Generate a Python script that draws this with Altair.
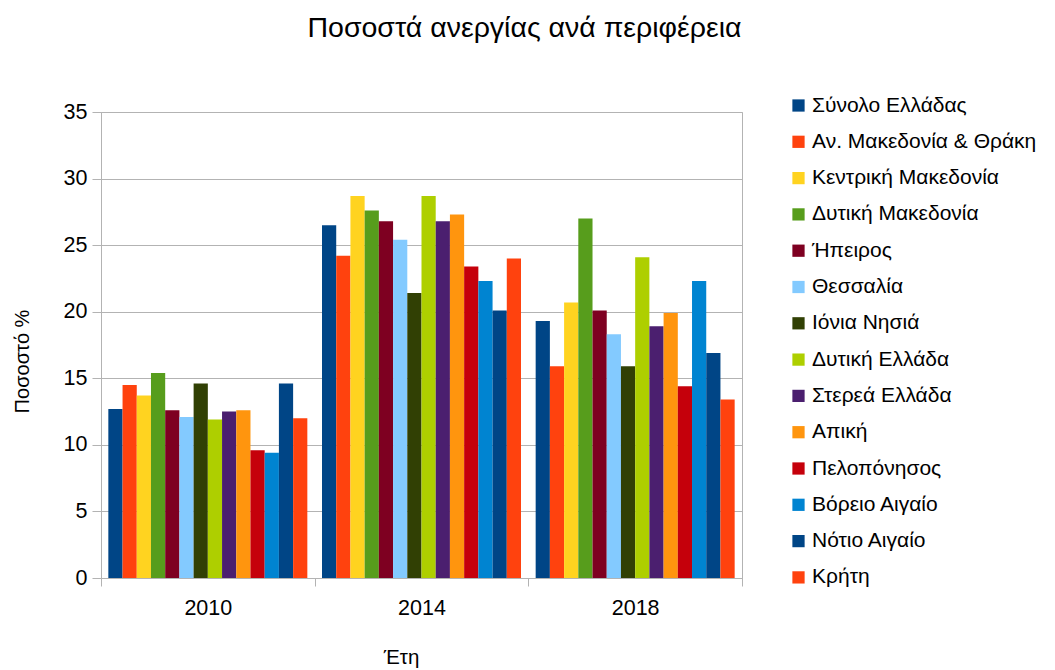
import altair as alt
import pandas as pd

years = ["2010", "2014", "2018"]
regions = [
    "Σύνολο Ελλάδας",
    "Αν. Μακεδονία & Θράκη",
    "Κεντρική Μακεδονία",
    "Δυτική Μακεδονία",
    "Ήπειρος",
    "Θεσσαλία",
    "Ιόνια Νησιά",
    "Δυτική Ελλάδα",
    "Στερεά Ελλάδα",
    "Απική",
    "Πελοπόνησος",
    "Βόρειο Αιγαίο",
    "Νότιο Αιγαίο",
    "Κρήτη",
]
values_2010 = [12.7, 14.5, 13.7, 15.4, 12.6, 12.1, 14.6, 11.9, 12.5, 12.6, 9.6, 9.4, 14.6, 12.0]
values_2014 = [26.5, 24.2, 28.7, 27.6, 26.8, 25.4, 21.4, 28.7, 26.8, 27.3, 23.4, 22.3, 20.1, 24.0]
values_2018 = [19.3, 15.9, 20.7, 27.0, 20.1, 18.3, 15.9, 24.1, 18.9, 19.9, 14.4, 22.3, 16.9, 13.4]
colors = ["#004586", "#ff420e", "#ffd320", "#579d1c", "#7e0021", "#83caff", "#314004",
          "#aecf00", "#4b1f6f", "#ff950e", "#c5000b", "#0084d1", "#004586", "#ff420e"]

rows = []
for year, vals in zip(years, [values_2010, values_2014, values_2018]):
    for reg, v in zip(regions, vals):
        rows.append({"Έτος": year, "Περιφέρεια": reg, "Ποσοστό": v})
df = pd.DataFrame(rows)

FONT = "Liberation Sans"

chart = alt.Chart(df).mark_bar(stroke=None).encode(
    x=alt.X("Έτος:N", sort=years,
            scale=alt.Scale(paddingInner=0, paddingOuter=0),
            axis=alt.Axis(title="Έτη", labelAngle=0, labelFontSize=21.5, labelFont=FONT,
                          labelColor="#000000", labelPadding=11,
                          titleFontSize=20.5, titleFont=FONT, titleFontWeight="normal",
                          titleColor="#000000", titleX=300, titleY=79,
                          titleBaseline="middle",
                          tickBand="extent", tickSize=8, tickColor="#b3b3b3",
                          domainColor="#b3b3b3", grid=False)),
    xOffset=alt.XOffset("Περιφέρεια:N", sort=regions,
                        scale=alt.Scale(paddingInner=0, paddingOuter=0.516)),
    y=alt.Y("Ποσοστό:Q",
            scale=alt.Scale(domain=[0, 35], nice=False),
            axis=alt.Axis(title="Ποσοστό %", values=[0, 5, 10, 15, 20, 25, 30, 35],
                          labelFontSize=21.5, labelFont=FONT, labelColor="#000000",
                          labelPadding=5, tickSize=9, tickColor="#b3b3b3",
                          domainColor="#b3b3b3", gridColor="#b3b3b3",
                          titleFontSize=20, titleFont=FONT, titleFontWeight="normal",
                          titleColor="#000000", titleX=-79, titleY=249,
                          titleBaseline="middle", titleAngle=270)),
    color=alt.Color("Περιφέρεια:N", sort=regions,
                    scale=alt.Scale(domain=regions, range=colors),
                    legend=alt.Legend(title=None, orient="none", legendX=687, legendY=-17,
                                      padding=0,
                                      symbolType="square", symbolSize=150,
                                      symbolStrokeWidth=0, labelFontSize=21,
                                      labelFont=FONT, labelColor="#000000",
                                      labelLimit=400, rowPadding=14.3, labelOffset=3)),
).properties(
    width=641,
    height=466,
    title=alt.TitleParams("Ποσοστά ανεργίας ανά περιφέρεια", fontSize=28.5, font=FONT,
                          fontWeight="normal", color="#000000", anchor="middle",
                          frame="group", dx=103, offset=53),
    autosize=alt.AutoSizeParams(type="none"),
    padding={"left": 93, "top": 104, "right": 304, "bottom": 90},
).configure_view(stroke="#b3b3b3", strokeWidth=1)

chart.save("out.html", embed_options={"renderer": "svg", "actions": False})
